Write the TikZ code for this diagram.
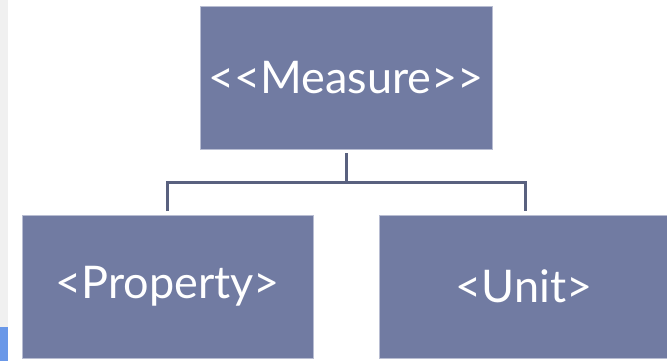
\documentclass[tikz,border=0pt]{standalone}
\usepackage{fontspec}
\setmainfont{Lato}[Ligatures=NoCommon]
\definecolor{boxfill}{HTML}{717BA2}
\definecolor{boxedge}{HTML}{B8BDD2}
\definecolor{linkcol}{HTML}{59617F}
\definecolor{stripgray}{HTML}{F0F0F0}
\definecolor{stripblue}{HTML}{6A98E8}
\begin{document}
\begin{tikzpicture}[x=1pt,y=-1pt,
  box/.style={draw=boxedge,line width=0.7pt,fill=boxfill,text=white,inner sep=0pt,
    font=\fontsize{45}{54}\selectfont},
  link/.style={draw=linkcol,line width=3pt}]
\useasboundingbox (0,0) rectangle (667,361);
\fill[white] (0,0) rectangle (667,361);
\fill[stripgray] (0,0) rectangle (8,361);
\fill[stripblue] (0,327) rectangle (8,361);
\node[box,minimum width=292pt,minimum height=143pt] (measure) at (346,77.5) {<\kern0pt<Measure>\kern0pt>};
\node[box,minimum width=291pt,minimum height=143pt] (property) at (167.5,286.5) {<Property>};
\node[box,minimum width=290pt,minimum height=143pt] (unit) at (524,286.5) {<Unit>};
\coordinate (top) at (346,153);
\coordinate (bar) at (346,182);
\coordinate (lt) at (167,211);
\coordinate (rt) at (525,211);
\draw[link] (top) -- (bar);
\draw[link] (lt) |- (bar) -| (rt);
\end{tikzpicture}
\end{document}
